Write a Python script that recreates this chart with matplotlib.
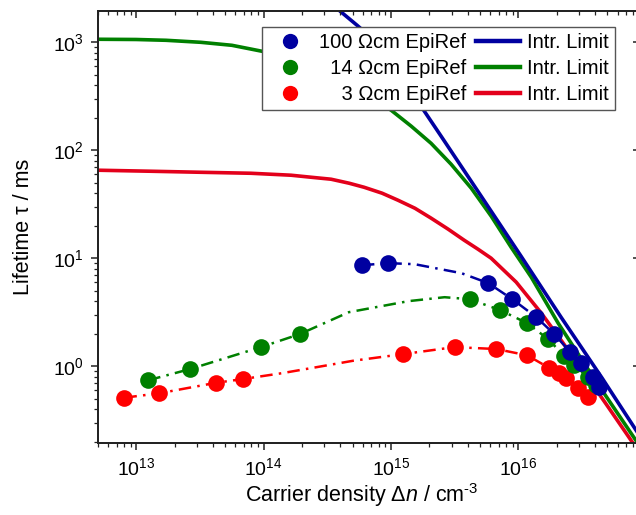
import matplotlib
matplotlib.use('Agg')
import matplotlib.pyplot as plt
from matplotlib.lines import Line2D

plt.rcParams['font.family'] = ['Liberation Sans', 'DejaVu Sans']
plt.rcParams['mathtext.fontset'] = 'custom'
plt.rcParams['mathtext.rm'] = 'Liberation Sans'
plt.rcParams['mathtext.it'] = 'Liberation Sans:italic'
plt.rcParams['mathtext.bf'] = 'Liberation Sans:bold'

# ---------------- data ----------------
# measured lifetimes (markers)
x_100 = [5.9e14, 9.4e14, 5.8e15, 8.95e15, 1.38e16, 1.91e16, 2.55e16, 3.1e16, 3.85e16, 4.3e16]
y_100 = [8.6, 9.0, 5.87, 4.17, 2.84, 1.98, 1.35, 1.07, 0.79, 0.64]

x_14 = [1.24e13, 2.65e13, 9.5e13, 1.92e14, 4.13e15, 7.2e15, 1.17e16, 1.71e16, 2.29e16, 2.74e16, 3.53e16, 4.07e16]
y_14 = [0.74, 0.94, 1.50, 1.98, 4.17, 3.30, 2.50, 1.78, 1.24, 1.02, 0.79, 0.67]

x_3 = [8.06e12, 1.51e13, 4.2e13, 6.9e13, 1.23e15, 3.15e15, 6.7e15, 1.17e16, 1.75e16, 2.09e16, 2.37e16, 2.94e16, 3.53e16]
y_3 = [0.51, 0.56, 0.70, 0.76, 1.29, 1.50, 1.44, 1.26, 0.96, 0.86, 0.77, 0.63, 0.52]

# fit curves (dash-dot)
fx_100 = [5.9e14, 9.4e14, 1.53e15, 3.57e15, 5.8e15, 8.95e15, 1.38e16, 1.91e16, 2.55e16, 3.1e16, 3.85e16, 4.3e16]
fy_100 = [8.6, 9.0, 8.8, 7.26, 5.87, 4.17, 2.84, 1.98, 1.35, 1.07, 0.79, 0.64]

fx_14 = [1.24e13, 2.65e13, 9.5e13, 1.92e14, 4.66e14, 1.37e15, 2.63e15, 4.13e15, 7.2e15, 1.17e16, 1.71e16, 2.29e16, 2.74e16, 3.53e16, 4.07e16]
fy_14 = [0.74, 0.94, 1.50, 1.98, 3.16, 4.0, 4.35, 4.17, 3.30, 2.50, 1.78, 1.24, 1.02, 0.79, 0.67]

fx_3 = [8.06e12, 1.51e13, 4.2e13, 6.9e13, 1.39e14, 2.5e14, 5.0e14, 1.23e15, 3.15e15, 6.7e15, 1.17e16, 1.75e16, 2.09e16, 2.37e16, 2.94e16, 3.53e16]
fy_3 = [0.51, 0.56, 0.70, 0.76, 0.86, 0.97, 1.12, 1.29, 1.50, 1.44, 1.26, 0.96, 0.86, 0.77, 0.63, 0.52]

# intrinsic limits (solid)
ix_100 = [3.14e14, 3.91e14, 5.41e14, 7.22e14, 9.64e14, 1.29e15, 1.72e15, 2.47e15, 3.55e15,
          5.1e15, 7.31e15, 1.05e16, 2.16e16, 4.54e16, 9.18e16]
iy_100 = [2449, 1977, 1437, 1067, 726, 445, 255, 135, 71.1,
          37.5, 19.8, 10.4, 2.84, 0.774, 0.216]

ix_14 = [5e12, 9.93e12, 1.71e13, 3.21e13, 5.63e13, 9.7e13, 1.64e14, 2.82e14, 4.85e14, 6.96e14,
         1.0e15, 1.44e15, 2.06e15, 2.96e15, 4.26e15, 6.11e15, 8.77e15, 1.26e16, 2.05e16,
         4.0e16, 9.18e16]
iy_14 = [1067, 1062, 1044, 1000, 938, 826, 696, 550, 391, 310,
         235, 167, 116, 74.2, 44.5, 24.5, 12.6, 6.67, 2.50,
         0.742, 0.174]

ix_3 = [5e12, 1.30e13, 3.21e13, 7.94e13, 1.64e14, 2.36e14, 3.38e14, 4.68e14, 6.14e14, 8.5e14,
        1.135e15, 1.54e15, 2.06e15, 2.8e15, 3.74e15, 4.82e15, 6.1e15, 9.6e15, 1.51e16,
        2.16e16, 3.1e16, 4.88e16, 7.26e16, 1e17]
iy_3 = [65.3, 63.9, 62.5, 61.2, 58.7, 56.2, 53.9, 49.5, 45.4, 40.0,
        34.4, 29.0, 23.5, 18.6, 14.7, 12.1, 10.0, 6.0, 3.10,
        1.74, 0.958, 0.445, 0.225, 0.129]

labels_meas = ['100 \u03A9cm EpiRef', '\u200714 \u03A9cm EpiRef', '\u2007\u20073 \u03A9cm EpiRef']
label_intr = 'Intr. Limit'

# ---------------- style ----------------
c_blue_m, c_blue_l = '#0000A0', '#0000A0'
c_green_m, c_green_l = '#008000', '#008000'
c_red_m, c_red_l = '#FF0000', '#E3001B'
dashdot = (0, (5, 2.5, 1, 2.5))

fig = plt.figure(figsize=(6.36, 5.15), dpi=100)
ax = fig.add_axes([98/636, 1-443/515, (640-98)/636, (443-11)/515])
ax.set_xscale('log')
ax.set_yscale('log')

# intrinsic limits
ax.plot(ix_3, iy_3, color=c_red_l, lw=2.6, zorder=2)
ax.plot(ix_14, iy_14, color=c_green_l, lw=2.6, zorder=2)
ax.plot(ix_100, iy_100, color=c_blue_l, lw=2.6, zorder=2)

# fits
ax.plot(fx_3, fy_3, color=c_red_m, lw=1.8, ls=dashdot, zorder=3)
ax.plot(fx_14, fy_14, color=c_green_m, lw=1.8, ls=dashdot, zorder=3)
ax.plot(fx_100, fy_100, color=c_blue_m, lw=1.8, ls=dashdot, zorder=3)

# measurements
ax.plot(x_3, y_3, 'o', color=c_red_m, ms=12, mew=0, zorder=4)
ax.plot(x_14, y_14, 'o', color=c_green_m, ms=12, mew=0, zorder=5)
ax.plot(x_100, y_100, 'o', color=c_blue_m, ms=12, mew=0, zorder=6)

ax.set_xlim(5e12, 9e16)
ax.set_ylim(0.194, 1950)

for sp in ax.spines.values():
    sp.set_linewidth(1.1)
    sp.set_color('#222222')

ax.tick_params(which='both', direction='out', labelsize=14, colors='#222222', labelcolor='black')
ax.tick_params(which='major', length=5, width=1.1, pad=5)
ax.tick_params(which='minor', length=3, width=0.9)

axt = ax.twiny()
axt.set_xscale('log')
axt.set_xlim(ax.get_xlim())
axt.tick_params(which='both', direction='in', labeltop=False, colors='#222222')
axt.tick_params(which='major', length=5, width=1.1)
axt.tick_params(which='minor', length=3, width=0.9)
axr = ax.twinx()
axr.set_yscale('log')
axr.set_ylim(ax.get_ylim())
axr.tick_params(which='both', direction='in', labelright=False, colors='#222222')
axr.tick_params(which='major', length=5, width=1.1)
axr.tick_params(which='minor', length=3, width=0.9)
for a in (axt, axr):
    for sp in a.spines.values():
        sp.set_linewidth(1.1)
        sp.set_color('#222222')

ax.set_xlabel('Carrier density \u0394$\\it{n}$ / cm$^{\\text{-3}}$', fontsize=15.5)
ax.set_ylabel('Lifetime \u03C4 / ms', fontsize=15.5)
ax.xaxis.set_label_coords(0.487, -0.088)
ax.yaxis.set_label_coords(-0.118, 0.5)

handles = [
    Line2D([], [], marker='o', ls='none', color=c_blue_m, ms=11, mew=0),
    Line2D([], [], marker='o', ls='none', color=c_green_m, ms=11, mew=0),
    Line2D([], [], marker='o', ls='none', color=c_red_m, ms=11, mew=0),
    Line2D([], [], color=c_blue_l, lw=3.2),
    Line2D([], [], color=c_green_l, lw=3.2),
    Line2D([], [], color=c_red_l, lw=3.2),
]
labels = labels_meas + [label_intr] * 3
leg = axr.legend(handles, labels, ncol=2, loc='upper right',
                 bbox_to_anchor=((615-98)/542, (443-27)/432),
                 fontsize=14.5, frameon=True, fancybox=False, framealpha=1,
                 edgecolor='#555555', borderpad=0.3, labelspacing=0.35,
                 handlelength=2.2, handletextpad=0.35, columnspacing=0.45,
                 borderaxespad=0)
leg.get_frame().set_linewidth(1.0)

fig.savefig('out.png', dpi=100)
